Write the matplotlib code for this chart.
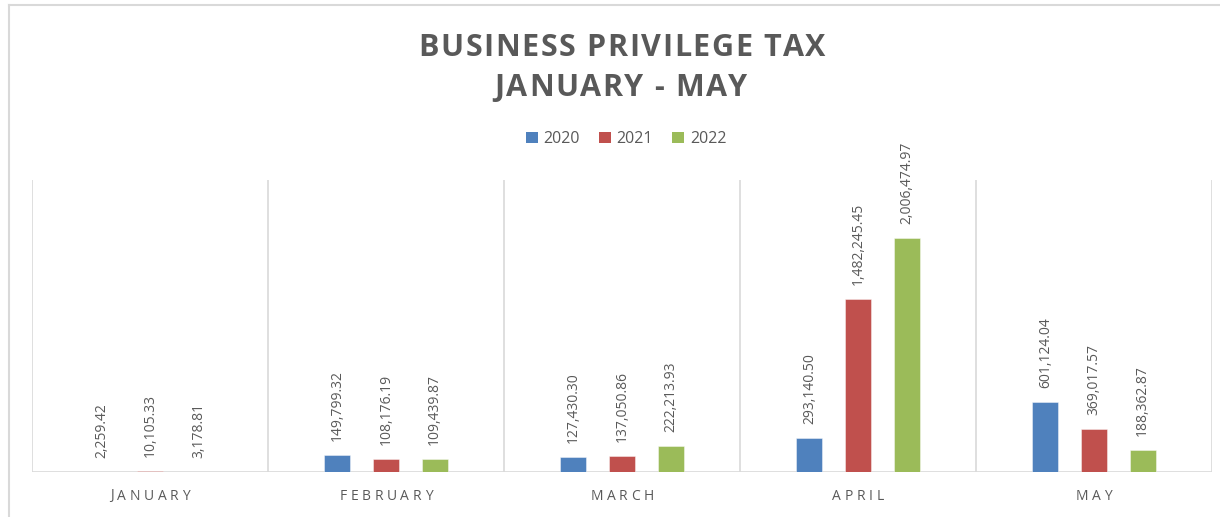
import matplotlib
matplotlib.use("Agg")
import matplotlib.pyplot as plt
import numpy as np
from matplotlib.lines import Line2D
from matplotlib.patches import Patch
from matplotlib.font_manager import FontProperties

months = ["JANUARY", "FEBRUARY", "MARCH", "APRIL", "MAY"]
years = ["2020", "2021", "2022"]
v2020 = [2259.42, 149799.32, 127430.30, 293140.50, 601124.04]
v2021 = [10105.33, 108176.19, 137050.86, 1482245.45, 369017.57]
v2022 = [3178.81, 109439.87, 222213.93, 2006474.97, 188362.87]
colors = ["#4F81BD", "#C0504D", "#9BBB59"]

W, H = 1220, 517
fig = plt.figure(figsize=(W / 100, H / 100), dpi=100)
plt.rcParams['font.family'] = ['Open Sans', 'DejaVu Sans']
gray = "#595959"
grid = "#D9D9D9"
renderer = fig.canvas.get_renderer()


def tracked_text(s, cx_px, cy_px, size, weight, tracking_px):
    """Draw text centred at pixel (cx, cy from top) with extra letter spacing."""
    prop = FontProperties(family="Open Sans", size=size, weight=weight)
    widths = []
    for ch in s:
        if ch == " ":
            w, _, _ = renderer.get_text_width_height_descent("a a", prop, ismath=False)
            w2, _, _ = renderer.get_text_width_height_descent("aa", prop, ismath=False)
            widths.append(w - w2)
        else:
            w, _, _ = renderer.get_text_width_height_descent(ch, prop, ismath=False)
            widths.append(w)
    total = sum(widths) + tracking_px * (len(s) - 1)
    x0 = cx_px - total / 2
    for ch, w in zip(s, widths):
        if ch != " ":
            fig.text(x0 / W, 1 - cy_px / H, ch, ha="left", va="center_baseline",
                     fontproperties=prop, color=gray)
        x0 += w + tracking_px


# axes area in pixels: x 32..1212, y 180..472
ax = fig.add_axes([32 / W, 1 - 472 / H, (1212 - 32) / W, (472 - 180) / H])
ax.set_xlim(0, 5)
ax.set_ylim(0, 2500000)

x = np.arange(len(months)) + 0.5
width = 0.11
step = 0.206
series = [v2020, v2021, v2022]
for i, (vals, c) in enumerate(zip(series, colors)):
    pos = x + (i - 1) * step
    ax.bar(pos, vals, width=width, color=c, edgecolor=(1, 1, 1, 0.5), linewidth=0.6, zorder=3)
    for px, v in zip(pos, vals):
        ax.annotate(f"{v:,.2f}", (px, v), xytext=(0, 10), textcoords="offset points",
                    rotation=90, ha="center", va="bottom", fontsize=10, color=gray)

for s in ["top", "right", "left", "bottom"]:
    ax.spines[s].set_visible(False)
ax.axhline(0, color=grid, lw=1.2, zorder=2)
for b in range(6):
    ax.axvline(b, color=grid, lw=1.2, zorder=1)
ax.set_yticks([])
ax.set_xticks([])

# category labels with letter spacing
for xi, m in zip(x, months):
    cx = 32 + xi * (1212 - 32) / 5
    tracked_text(m, cx, 494, 10, "normal", 3.6)

tracked_text("BUSINESS PRIVILEGE TAX", 622, 45, 22, "bold", 1.6)
tracked_text("JANUARY - MAY", 621, 85, 22, "bold", 1.6)

handles = [Patch(facecolor=c, edgecolor="none") for c in colors]
fig.legend(handles, years, loc="center", bbox_to_anchor=(626 / W, 1 - 139 / H), ncol=3,
           frameon=False, fontsize=11.5, labelcolor=gray, handlelength=0.75, handleheight=0.75,
           handletextpad=0.35, columnspacing=1.2)

# outer border (left and top)
fig.add_artist(Line2D([9 / W, 9 / W], [0, 1 - 5 / H], color="#D9D9D9", lw=1.5, transform=fig.transFigure))
fig.add_artist(Line2D([9 / W, 1], [1 - 5 / H, 1 - 5 / H], color="#D9D9D9", lw=1.5, transform=fig.transFigure))

fig.savefig("out.png", dpi=100, facecolor="white")
